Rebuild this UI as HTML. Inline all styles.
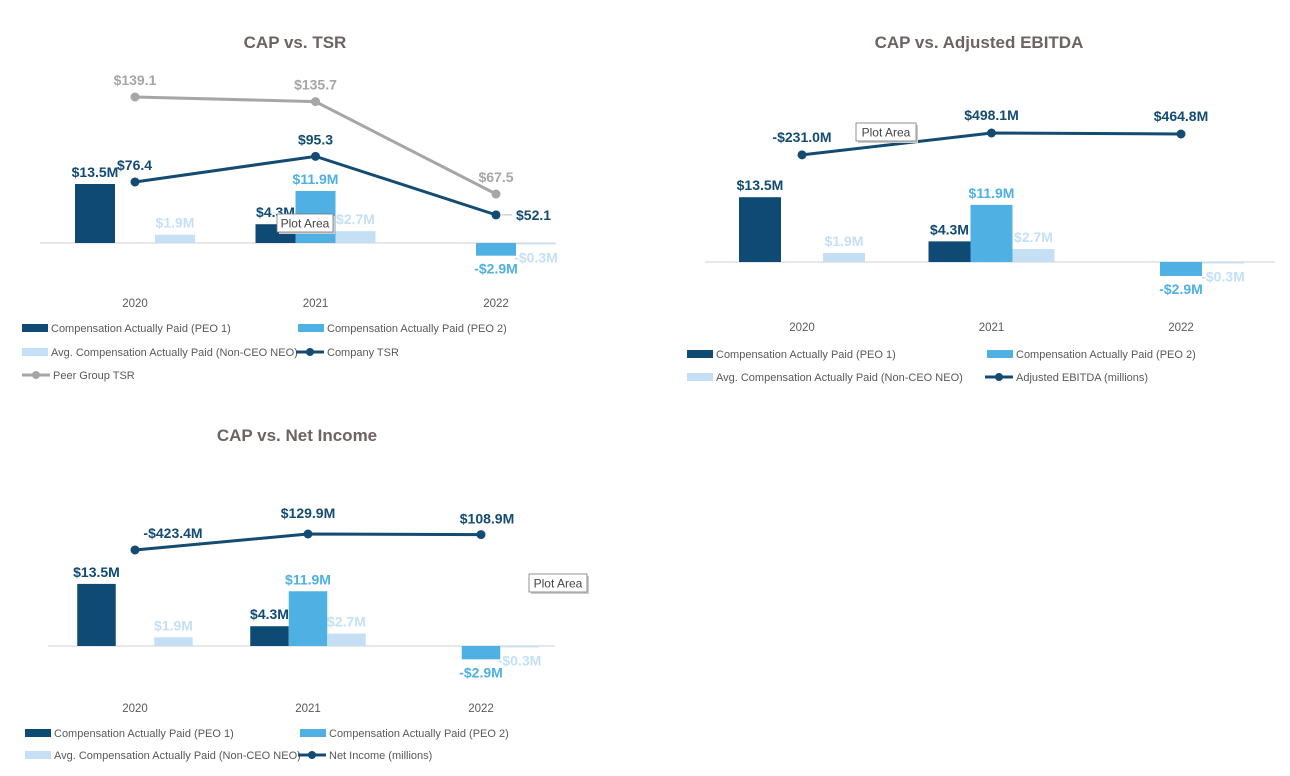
<!DOCTYPE html>
<html><head><meta charset="utf-8">
<style>
html,body{margin:0;padding:0;background:#fff;}
svg{display:block;font-family:"Liberation Sans",sans-serif;}
</style></head>
<body>
<svg id="c" width="1290" height="776" viewBox="0 0 1290 776" xmlns="http://www.w3.org/2000/svg"></svg>
<script>
const categories = ["2020","2021","2022"];
const peo1 = [13.5, 4.3, null];
const peo2 = [null, 11.9, -2.9];
const avgNeo = [1.9, 2.7, -0.3];
const companyTsr = [76.4, 95.3, 52.1];
const peerTsr = [139.1, 135.7, 67.5];
const adjEbitda = [-231.0, 498.1, 464.8];
const netIncome = [-423.4, 129.9, 108.9];
const fmtM = v => (v<0?"-$":"$")+Math.abs(v).toFixed(1)+"M";
const fmtT = v => "$"+v.toFixed(1);

const C1="#0f4a75", C2="#4eb0e3", C3="#c5e0f5", CG="#a6a6a6", TXT="#595959";
const svg=document.getElementById('c');
const NS="http://www.w3.org/2000/svg";
function mk(tag,attrs,parent){const e=document.createElementNS(NS,tag);for(const k in attrs)e.setAttribute(k,attrs[k]);(parent||svg).appendChild(e);return e;}
function txt(s,attrs,parent){const e=mk('text',attrs,parent);e.textContent=s;return e;}

function chart(cfg){
  const g=mk('g',{});
  
  
  const t=txt(cfg.title,{x:cfg.titleX,y:cfg.titleY,'text-anchor':'middle','font-size':17,'font-weight':'bold',fill:'#6e6262'},g);
  
  
  const xC=i=>cfg.c0+i*cfg.step;
  const yB=v=>cfg.base-v*cfg.barScale;
  const yL=v=>cfg.lineY0+(cfg.lineV0-v)*cfg.lineScale;
  const ax=mk('line',{x1:cfg.axX1,x2:cfg.axX2,y1:cfg.base,y2:cfg.base,stroke:'#d9d9d9','stroke-width':1.3},g);
  
  
  const series=[[peo1,C1,-1.5,C1],[peo2,C2,-0.5,C2],[avgNeo,C3,0.5,C3]];
  categories.forEach((cat,i)=>{
    const l=txt(cat,{x:xC(i),y:cfg.base+cfg.catDy,'text-anchor':'middle','font-size':11.5,fill:TXT},g);
    
    
    series.forEach(([arr,col,off,lc],si)=>{
      const v=arr[i]; if(v===null)return;
      const x=xC(i)+off*cfg.bw;
      const y=Math.min(yB(v),cfg.base), h=Math.max(Math.abs(v*cfg.barScale),1);
      const r=mk('rect',{x:x,y:y,width:cfg.bw,height:h,fill:col},g);
      
      
      let lx=x+cfg.bw/2, ly=v>=0?y-7:y+h+15;
      if(v<0&&si===2){ly=y+h+18;}
      if(v<0&&si===1){ly=y+h+18;}
      const d=txt(fmtM(v),{x:lx,y:ly,'text-anchor':'middle','font-size':14,'font-weight':'bold',fill:lc},g);
      
      
    });
  });
  cfg.lines.forEach((ln,li)=>{
    const pts=ln.vals.map((v,i)=>[xC(i),yL(v)]);
    const p=mk('polyline',{points:pts.map(q=>q.join(',')).join(' '),fill:'none',stroke:ln.color,'stroke-width':3},g);
    
    
    pts.forEach((q,i)=>{
      const c=mk('circle',{cx:q[0],cy:q[1],r:4.5,fill:ln.color},g);
      
      
      const o=(ln.off&&ln.off[i])||[0,-12,'middle'];
      const d=txt(ln.fmt(ln.vals[i]),{x:q[0]+o[0],y:q[1]+o[1],'text-anchor':o[2],'font-size':14,'font-weight':'bold',fill:ln.labelColor},g);
      
      
      if(o[3]){mk('line',{x1:q[0]+6,x2:q[0]+16,y1:q[1],y2:q[1],stroke:'#bbb'},g);}
    });
  });
  const pb=mk('g',{},g);
  
  
  mk('rect',{x:cfg.tip[0]+2,y:cfg.tip[1]+2,width:cfg.tip[2],height:18,fill:'#ccc'},pb);
  mk('rect',{x:cfg.tip[0],y:cfg.tip[1],width:cfg.tip[2],height:18,fill:'#fff',stroke:'#777','stroke-width':0.8},pb);
  txt('Plot Area',{x:cfg.tip[0]+cfg.tip[2]/2,y:cfg.tip[1]+13.5,'text-anchor':'middle','font-size':12,fill:'#444'},pb);
  cfg.legend.forEach(it=>{
    const lg=mk('g',{},g);
    
    
    if(it.type==='bar') mk('rect',{x:it.x,y:it.y-4,width:26,height:8,fill:it.color},lg);
    else {mk('line',{x1:it.x,x2:it.x+28,y1:it.y,y2:it.y,stroke:it.color,'stroke-width':3},lg);mk('circle',{cx:it.x+14,cy:it.y,r:4,fill:it.color},lg);}
    txt(it.label,{x:it.x+(it.type==='bar'?29:31),y:it.y+4,'font-size':11,fill:TXT},lg);
  });
}

chart({name:'cap-vs-tsr-chart',title:'CAP vs. TSR',titleX:295,titleY:48,c0:135,step:180.5,bw:40,base:243,barScale:4.37,
  axX1:40,axX2:555,catDy:64,lineY0:97,lineV0:139.1,lineScale:1.355,tip:[277,214,56],
  lines:[
   {name:'peer-group-tsr-line',vals:peerTsr,color:CG,labelColor:CG,fmt:fmtT},
   {name:'company-tsr-line',vals:companyTsr,color:'#134b73',labelColor:'#134b73',fmt:fmtT,off:[[-18,-12,'start'],[0,-12,'middle'],[20,5,'start',1]]}
  ],
  legend:[
   {type:'bar',x:22,y:328,color:C1,label:'Compensation Actually Paid (PEO 1)'},
   {type:'bar',x:298,y:328,color:C2,label:'Compensation Actually Paid (PEO 2)'},
   {type:'bar',x:22,y:352,color:C3,label:'Avg. Compensation Actually Paid (Non-CEO NEO)'},
   {type:'line',x:296,y:352,color:'#134b73',label:'Company TSR'},
   {type:'line',x:22,y:375,color:CG,label:'Peer Group TSR'}
  ]});

chart({name:'cap-vs-ebitda-chart',title:'CAP vs. Adjusted EBITDA',titleX:979,titleY:48,c0:802,step:189.5,bw:42,base:262,barScale:4.8,
  axX1:705,axX2:1275,catDy:69,lineY0:133,lineV0:498.1,lineScale:0.03,tip:[856,123,60],
  lines:[{name:'adjusted-ebitda-line',vals:adjEbitda,color:'#134b73',labelColor:'#134b73',fmt:fmtM,off:[[0,-13,'middle'],[0,-13,'middle'],[0,-13,'middle']]}],
  legend:[
   {type:'bar',x:687,y:354,color:C1,label:'Compensation Actually Paid (PEO 1)'},
   {type:'bar',x:987,y:354,color:C2,label:'Compensation Actually Paid (PEO 2)'},
   {type:'bar',x:687,y:377,color:C3,label:'Avg. Compensation Actually Paid (Non-CEO NEO)'},
   {type:'line',x:985,y:377,color:'#134b73',label:'Adjusted EBITDA (millions)'}
  ]});

chart({name:'cap-vs-net-income-chart',title:'CAP vs. Net Income',titleX:297,titleY:441,c0:135,step:173,bw:38.5,base:646,barScale:4.6,
  axX1:48,axX2:555,catDy:66,lineY0:534,lineV0:129.9,lineScale:0.0289,tip:[529,574,58],
  lines:[{name:'net-income-line',vals:netIncome,color:'#134b73',labelColor:'#134b73',fmt:fmtM,off:[[38,-12,'middle'],[0,-16,'middle'],[6,-11,'middle']]}],
  legend:[
   {type:'bar',x:25,y:733,color:C1,label:'Compensation Actually Paid (PEO 1)'},
   {type:'bar',x:300,y:733,color:C2,label:'Compensation Actually Paid (PEO 2)'},
   {type:'bar',x:25,y:755,color:C3,label:'Avg. Compensation Actually Paid (Non-CEO NEO)'},
   {type:'line',x:298,y:755,color:'#134b73',label:'Net Income (millions)'}
  ]});
</script>
</body></html>
